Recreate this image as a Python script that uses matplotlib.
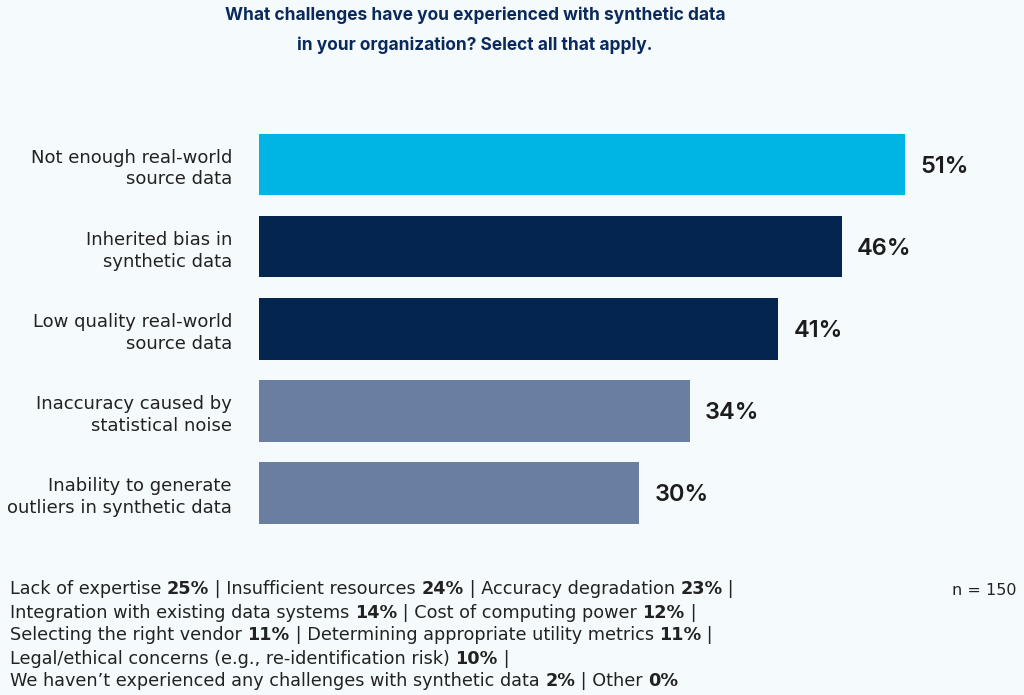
import matplotlib.pyplot as plt

# chart data
categories = ["Not enough real-world\nsource data",
              "Inherited bias in\nsynthetic data",
              "Low quality real-world\nsource data",
              "Inaccuracy caused by\nstatistical noise",
              "Inability to generate\noutliers in synthetic data"]
values = [51, 46, 41, 34, 30]
bar_colors = ["#00B5E3", "#03254F", "#03254F", "#6A7EA2", "#6A7EA2"]

# other answers listed under the chart, grouped by printed line
other_labels = [["Lack of expertise", "Insufficient resources", "Accuracy degradation"],
                ["Integration with existing data systems", "Cost of computing power"],
                ["Selecting the right vendor", "Determining appropriate utility metrics"],
                ["Legal/ethical concerns (e.g., re-identification risk)"],
                ["We haven\u2019t experienced any challenges with synthetic data", "Other"]]
other_values = [[25, 24, 23], [14, 12], [11, 11], [10], [2, 0]]

title = "What challenges have you experienced with synthetic data\nin your organization? Select all that apply."
n_note = "n = 150"

BG = "#F5FBFD"
TXT = "#222222"
HEAD = ["Inter", "DejaVu Sans"]
BODY = ["DejaVu Sans"]
plt.rcParams["font.family"] = BODY

fig = plt.figure(figsize=(10.24, 6.95), dpi=100, facecolor=BG)
ax = fig.add_axes([259 / 1024, 1 - 534 / 695, 760 / 1024, 410.5 / 695])
ax.set_facecolor(BG)

ypos = list(range(len(categories)))
ax.barh(ypos, values, height=0.75, color=bar_colors)
ax.set_xlim(0, 60)
ax.set_ylim(len(categories) - 0.5, -0.5)

for y, v in zip(ypos, values):
    ax.annotate(f"{v}%", xy=(v, y), xytext=(11, -1.5), textcoords="offset points",
                va="center", ha="left", fontsize=17, fontweight=600, color="#1C1C1C",
                family=HEAD)

ax.set_yticks(ypos)
ax.set_yticklabels(categories, fontsize=13.0, color=TXT, linespacing=1.28)
ax.tick_params(axis="y", length=0, pad=19.5)
ax.set_xticks([])
for s in ax.spines.values():
    s.set_visible(False)

fig.text(475 / 1024, 1 - 6 / 695, title, ha="center", va="top", fontsize=12.5,
         fontweight="bold", color="#0B2A5B", linespacing=2.0, family=HEAD)

fig.text(1016 / 1024, 1 - 595 / 695, n_note, ha="right", va="baseline",
         fontsize=11.5, color=TXT)

# footer with bold percentages, built piece by piece
FS = 12.7
baseline = 594.5
for li, (labs, vals) in enumerate(zip(other_labels, other_values)):
    yb = 1 - (baseline + 23 * li) / 695
    prev = None
    for k, (lab, val) in enumerate(zip(labs, vals)):
        lead = lab + " " if k == 0 else " | " + lab + " "
        pieces = [(lead, "normal"), (f"{val}%", "bold")]
        for txt, w in pieces:
            if prev is None:
                prev = fig.text(10 / 1024, yb, txt, ha="left", va="baseline",
                                fontsize=FS, fontweight=w, color=TXT)
            else:
                prev = ax.annotate(txt, xy=(1, yb), xycoords=(prev, "figure fraction"),
                                   ha="left", va="baseline", fontsize=FS,
                                   fontweight=w, color=TXT, annotation_clip=False)
    if li < len(other_labels) - 1:
        ax.annotate(" |", xy=(1, yb), xycoords=(prev, "figure fraction"),
                    ha="left", va="baseline", fontsize=FS, color=TXT,
                    annotation_clip=False)

fig.savefig("out.png", dpi=100, facecolor=BG)
